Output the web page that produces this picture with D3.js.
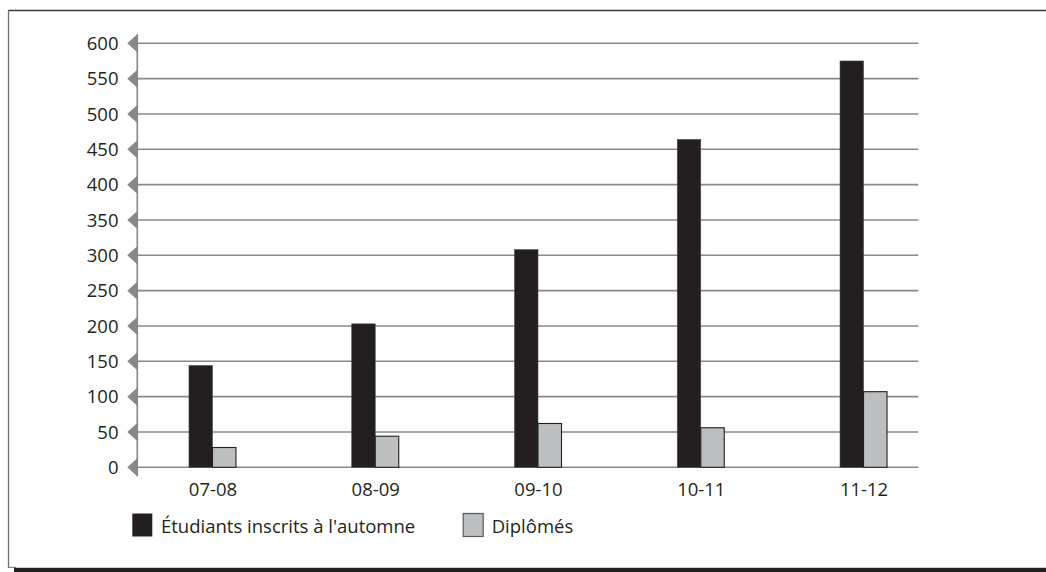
<!DOCTYPE html>
<html>
<head>
<meta charset="utf-8">
<script src="https://cdn.jsdelivr.net/npm/d3@7"></script>
<style>
  html, body { margin: 0; padding: 0; background: #fff; }
  svg { display: block; }
  text { font-family: "Open Sans", "Noto Sans", sans-serif; fill: #231f20; }
</style>
</head>
<body>
<svg id="chart" width="1046" height="572"></svg>
<script>
// School years on the x axis
const categories = ["07-08", "08-09", "09-10", "10-11", "11-12"];
// Students enrolled in the fall
const inscrits = [144, 203, 308, 464, 575];
// Graduates
const diplomes = [28, 44, 62, 56, 107];
// Series names for the legend
const seriesNames = ["Étudiants inscrits à l'automne", "Diplômés"];
// Y axis ticks
const yTicks = [0, 50, 100, 150, 200, 250, 300, 350, 400, 450, 500, 550, 600];

const svg = d3.select("#chart");
const W = 1046, H = 572;

const gridColor = "#86888b";
const darkFill = "#231f20";
const lightFill = "#bcbec0";
const fontSize = 18.5;

// Frame
svg.append("line").attr("x1", 8).attr("x2", W).attr("y1", 10.5).attr("y2", 10.5)
  .attr("stroke", "#3a3a3c").attr("stroke-width", 1.5);
svg.append("line").attr("x1", 8.5).attr("x2", 8.5).attr("y1", 10).attr("y2", 567.5)
  .attr("stroke", "#6d6e71").attr("stroke-width", 1.3);
svg.append("line").attr("x1", 8).attr("x2", 16).attr("y1", 567.3).attr("y2", 567.3)
  .attr("stroke", "#6d6e71").attr("stroke-width", 1);
svg.append("rect").attr("x", 14).attr("y", 567.8).attr("width", W - 14).attr("height", 4.2)
  .attr("fill", "#231f20");

const axisX = 137.3, gridEnd = 918.3;
const y = d3.scaleLinear().domain([0, 600]).range([467.3, 43.3]);
const x0 = d3.scaleBand().domain(categories).range([131.6, 945.4]);
const x1 = d3.scaleBand().domain(seriesNames).range([-24, 23]);

// Gridlines
svg.append("g").selectAll("line").data(yTicks).join("line")
  .attr("x1", axisX).attr("x2", gridEnd)
  .attr("y1", d => y(d)).attr("y2", d => y(d))
  .attr("stroke", gridColor).attr("stroke-width", 1.6);

// Vertical axis line
svg.append("line").attr("x1", axisX).attr("x2", axisX)
  .attr("y1", y(600) - 9).attr("y2", y(0) + 9)
  .attr("stroke", gridColor).attr("stroke-width", 1.6);

// Triangle tick markers
svg.append("g").selectAll("path").data(yTicks).join("path")
  .attr("d", d => {
    const yy = y(d);
    return `M${axisX + 0.5},${yy - 9.5}L${axisX - 10},${yy}L${axisX + 0.5},${yy + 9.5}Z`;
  })
  .attr("fill", gridColor);

// Tick labels
svg.append("g").selectAll("text").data(yTicks).join("text")
  .attr("x", 118.5).attr("y", d => y(d) + 6.6)
  .attr("text-anchor", "end").attr("font-size", fontSize)
  .text(d => d);

// Bars
const rows = categories.map((c, i) => ({ cat: c, vals: [inscrits[i], diplomes[i]] }));
const groups = svg.append("g").selectAll("g").data(rows).join("g")
  .attr("transform", d => `translate(${x0(d.cat) + x0.bandwidth() / 2},0)`);

groups.selectAll("rect").data(d => d.vals.map((v, k) => ({ v, k })))
  .join("rect")
  .attr("x", d => x1(seriesNames[d.k]))
  .attr("width", x1.bandwidth())
  .attr("y", d => y(d.v))
  .attr("height", d => y(0) - y(d.v))
  .attr("fill", d => d.k === 0 ? darkFill : lightFill)
  .attr("stroke", d => d.k === 0 ? "#4a4a4c" : "#231f20")
  .attr("stroke-width", d => d.k === 0 ? 0.6 : 1.1);

// Category labels
svg.append("g").selectAll("text").data(categories).join("text")
  .attr("x", d => x0(d) + x0.bandwidth() / 2).attr("y", 495.5)
  .attr("text-anchor", "middle").attr("font-size", fontSize)
  .text(d => d);

// Legend
const legend = [
  { name: seriesNames[0], fill: darkFill, stroke: "none", x: 132.3, tx: 161 },
  { name: seriesNames[1], fill: lightFill, stroke: "#58595b", x: 463.2, tx: 491.7 }
];
const lg = svg.append("g");
lg.selectAll("rect").data(legend).join("rect")
  .attr("x", d => d.x).attr("y", 513.5).attr("width", 20).attr("height", 23)
  .attr("fill", d => d.fill).attr("stroke", d => d.stroke).attr("stroke-width", 1.2);
lg.selectAll("text").data(legend).join("text")
  .attr("x", d => d.tx).attr("y", 533.3).attr("font-size", fontSize)
  .text(d => d.name);
</script>
</body>
</html>
